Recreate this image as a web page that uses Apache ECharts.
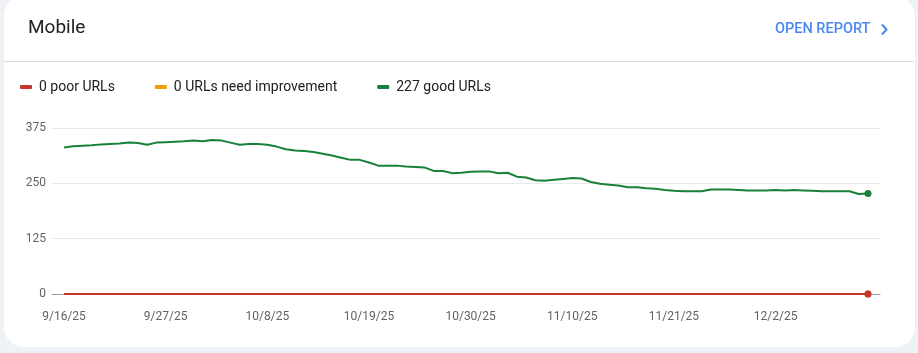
<!DOCTYPE html>
<html>
<head>
<meta charset="utf-8">
<script src="https://cdn.jsdelivr.net/npm/echarts@6/dist/echarts.min.js"></script>
<style>
  html, body { margin: 0; padding: 0; background: #eef1f6; }
  #chart { width: 918px; height: 353px; }
</style>
</head>
<body>
<div id="chart"></div>
<script>
// Dates (one per day)
const dates = [
  '9/16/25','9/17/25','9/18/25','9/19/25','9/20/25','9/21/25','9/22/25','9/23/25','9/24/25','9/25/25',
  '9/26/25','9/27/25','9/28/25','9/29/25','9/30/25',
  '10/1/25','10/2/25','10/3/25','10/4/25','10/5/25','10/6/25','10/7/25','10/8/25','10/9/25','10/10/25',
  '10/11/25','10/12/25','10/13/25','10/14/25','10/15/25','10/16/25','10/17/25','10/18/25','10/19/25','10/20/25',
  '10/21/25','10/22/25','10/23/25','10/24/25','10/25/25','10/26/25','10/27/25','10/28/25','10/29/25','10/30/25','10/31/25',
  '11/1/25','11/2/25','11/3/25','11/4/25','11/5/25','11/6/25','11/7/25','11/8/25','11/9/25','11/10/25',
  '11/11/25','11/12/25','11/13/25','11/14/25','11/15/25','11/16/25','11/17/25','11/18/25','11/19/25','11/20/25',
  '11/21/25','11/22/25','11/23/25','11/24/25','11/25/25','11/26/25','11/27/25','11/28/25','11/29/25','11/30/25',
  '12/1/25','12/2/25','12/3/25','12/4/25','12/5/25','12/6/25','12/7/25','12/8/25','12/9/25','12/10/25','12/11/25','12/12/25'
];

// Dates that get a label on the x axis
const tickDates = ['9/16/25', '9/27/25', '10/8/25', '10/19/25', '10/30/25', '11/10/25', '11/21/25', '12/2/25'];

const goodValues = [
  331, 334, 335, 336, 338, 339, 340, 342, 341, 337,
  342, 343, 344, 345, 347, 345, 348, 347, 342, 337,
  339, 339, 337, 333, 327, 324, 323, 321, 317, 313,
  308, 303, 303, 297, 290, 290, 290, 288, 287, 286,
  278, 278, 273, 274, 276, 277, 277, 273, 274, 265,
  263, 257, 256, 258, 260, 262, 261, 253, 249, 247,
  245, 241, 241, 239, 238, 235, 233, 232, 232, 232,
  236, 236, 236, 235, 234, 234, 234, 235, 234, 235,
  234, 233, 232, 232, 232, 232, 226, 227
];

const needsValues = [
  0,0,0,0,0,0,0,0,0,0, 0,0,0,0,0,0,0,0,0,0, 0,0,0,0,0,0,0,0,0,0,
  0,0,0,0,0,0,0,0,0,0, 0,0,0,0,0,0,0,0,0,0, 0,0,0,0,0,0,0,0,0,0,
  0,0,0,0,0,0,0,0,0,0, 0,0,0,0,0,0,0,0,0,0, 0,0,0,0,0,0,0,0
];

const poorValues = [
  0,0,0,0,0,0,0,0,0,0, 0,0,0,0,0,0,0,0,0,0, 0,0,0,0,0,0,0,0,0,0,
  0,0,0,0,0,0,0,0,0,0, 0,0,0,0,0,0,0,0,0,0, 0,0,0,0,0,0,0,0,0,0,
  0,0,0,0,0,0,0,0,0,0, 0,0,0,0,0,0,0,0,0,0, 0,0,0,0,0,0,0,0
];

const yTicks = [0, 125, 250, 375];

const COLORS = {
  poor: '#c5372c',
  needs: '#f29d00',
  good: '#188038',
};

const FONT = 'Roboto, "Noto Sans", sans-serif';

// [index, value] pairs, with a dot on the last point
function toData(values) {
  return values.map((v, i) => {
    if (i === values.length - 1) {
      return { value: [i, v], symbol: 'circle', symbolSize: 7 };
    }
    return [i, v];
  });
}

function makeSeries(name, values, color, z) {
  return {
    name,
    type: 'line',
    data: toData(values),
    symbol: 'none',
    showAllSymbol: true,
    z,
    lineStyle: { color, width: 2 },
    itemStyle: { color },
    emphasis: { disabled: true },
  };
}

const chart = echarts.init(document.getElementById('chart'));

chart.setOption({
  animation: false,
  textStyle: { fontFamily: FONT },
  graphic: [
    {
      type: 'rect',
      z: -10,
      shape: { x: 4, y: -4, width: 911, height: 351, r: 20 },
      style: { fill: '#ffffff' },
    },
    {
      type: 'line',
      shape: { x1: 4, y1: 61.5, x2: 914, y2: 61.5 },
      style: { stroke: '#dadce0', lineWidth: 1 },
    },
    {
      type: 'text',
      left: 28,
      top: 19,
      style: { text: 'Mobile', font: '19px ' + FONT, fill: '#202124' },
    },
    {
      type: 'text',
      left: 775,
      top: 22,
      style: { text: 'OPEN REPORT', font: '500 14.5px ' + FONT, fill: '#4a86f0' },
    },
    {
      type: 'polyline',
      shape: { points: [[882, 24.5], [886.5, 29.5], [882, 34.5]] },
      style: { stroke: '#4a86f0', lineWidth: 2, fill: null },
    },
  ],
  legend: {
    left: 20,
    top: 80,
    padding: 0,
    itemGap: 40,
    itemWidth: 12,
    itemHeight: 4,
    icon: 'roundRect',
    data: ['0 poor URLs', '0 URLs need improvement', '227 good URLs'],
    textStyle: { fontSize: 14, color: '#202124', fontFamily: FONT, padding: [0, 0, 0, 2] },
    selectedMode: false,
  },
  grid: { left: 52, right: 38, top: 128, bottom: 59 },
  xAxis: {
    type: 'value',
    min: -1.3,
    max: dates.length - 1 + 1.3,
    axisLine: { show: true, lineStyle: { color: '#9aa0a6', width: 1 } },
    axisTick: { show: false },
    splitLine: { show: false },
    axisLabel: {
      customValues: tickDates.map(d => dates.indexOf(d)),
      formatter: v => dates[Math.round(v)],
      color: '#5f6368',
      fontSize: 12,
      margin: 17,
      fontFamily: FONT,
    },
  },
  yAxis: {
    type: 'value',
    min: yTicks[0],
    max: yTicks[yTicks.length - 1],
    interval: 125,
    axisLine: { show: false },
    axisTick: { show: false },
    splitLine: { lineStyle: { color: '#e8eaed', width: 1 } },
    axisLabel: { color: '#5f6368', fontSize: 12, margin: 6, fontFamily: FONT },
  },
  series: [
    makeSeries('227 good URLs', goodValues, COLORS.good, 2),
    makeSeries('0 URLs need improvement', needsValues, COLORS.needs, 3),
    makeSeries('0 poor URLs', poorValues, COLORS.poor, 4),
  ],
});
</script>
</body>
</html>
